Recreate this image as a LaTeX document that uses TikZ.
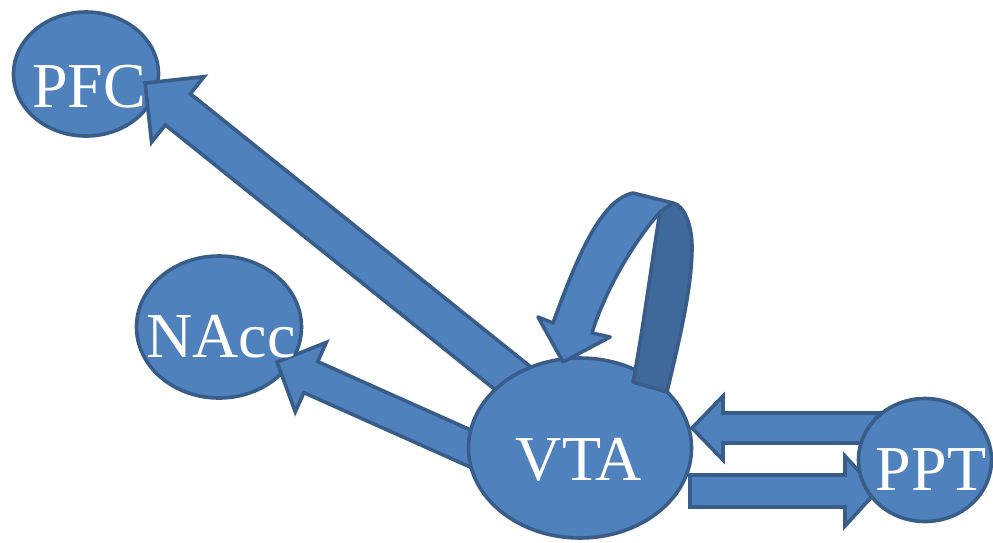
\documentclass[tikz,border=0pt]{standalone}
\usepackage{fontspec}
\setmainfont{Liberation Serif}
\usetikzlibrary{shapes.geometric,calc}
\definecolor{nodefill}{HTML}{4F81BD}
\definecolor{nodeline}{HTML}{385D8A}
\definecolor{bandfill}{HTML}{3F689B}
\tikzset{
  region/.style={ellipse, draw=nodeline, fill=nodefill, line width=3.6pt, inner sep=0pt},
  lbl/.style={text=white, font=\fontsize{64}{64}\selectfont, anchor=base, inner sep=0pt},
  arrowbody/.style={draw=nodeline, fill=nodefill, line width=3.6pt},
  bandback/.style={draw=nodeline, fill=bandfill, line width=3.6pt},
}
% tail, tip, half shaft width, half head width, head length
\newcommand\blockarrow[5]{%
  \pgfpointdiff{\pgfpointanchor{#1}{center}}{\pgfpointanchor{#2}{center}}%
  \pgfgetlastxy{\baX}{\baY}%
  \pgfmathsetmacro\baAng{atan2(\baY,\baX)}%
  \pgfmathsetmacro\baLen{veclen(\baX,\baY)}%
  \pgfmathsetmacro\baNeck{\baLen-#5}%
  \draw[arrowbody, shift={(#1)}, rotate=\baAng]
    (0pt,-#3pt) -- (\baNeck pt,-#3pt) -- (\baNeck pt,-#4pt) -- (\baLen pt,0pt)
    -- (\baNeck pt,#4pt) -- (\baNeck pt,#3pt) -- (0pt,#3pt) -- cycle;
}
\begin{document}
\begin{tikzpicture}[x=1pt,y=-1pt]
\useasboundingbox (0,0) rectangle (993,542);
% back ellipses
\node[region, minimum width=145pt, minimum height=124pt] (pfc) at (86,74) {};
\node[region, minimum width=165pt, minimum height=142pt] (nacc) at (219,327) {};
% arrow end points
\coordinate (pfc-tip) at (145,83);
\coordinate (pfc-tail) at (540,400);
\coordinate (nacc-tip) at (277,362);
\coordinate (nacc-tail) at (514,468);
\coordinate (ppt-tail) at (885,428);
\coordinate (vta-tip) at (692,428);
\coordinate (vta-tail) at (690,491);
\coordinate (ppt-tip) at (877,491);
% block arrows
\blockarrow{pfc-tail}{pfc-tip}{20}{42}{42}
\blockarrow{nacc-tail}{nacc-tip}{17}{38}{37}
\blockarrow{ppt-tail}{vta-tip}{15}{32}{31}
\blockarrow{vta-tail}{ppt-tip}{16}{35}{32}
% front ellipses
\node[region, minimum width=223pt, minimum height=180pt] (vta) at (580,448) {};
\node[region, minimum width=133pt, minimum height=123pt] (ppt) at (925,460) {};
% self loop on VTA
\draw[bandback, line join=round] (633,382) -- (667,392) .. controls (678,345) and (692,290) .. (692,247)
  .. controls (692,225) and (684,205) .. (673,203) -- (660,212)
  .. controls (652,260) and (643,330) .. (633,382) -- cycle;
\draw[arrowbody, line join=round] (633,193) -- (673,203) -- (660,212)
  .. controls (635,240) and (605,290) .. (592,333) -- (610,337) -- (563,362) -- (538,317) -- (553,323)
  .. controls (576,260) and (600,200) .. (633,193) -- cycle;
% labels
\node[lbl] (pfc-label) at (89,107) {PFC};
\node[lbl] (nacc-label) at (221,357) {NAcc};
\node[lbl] (vta-label) at (579,480) {VTA};
\node[lbl] (ppt-label) at (931,490) {PPT};
\end{tikzpicture}
\end{document}
